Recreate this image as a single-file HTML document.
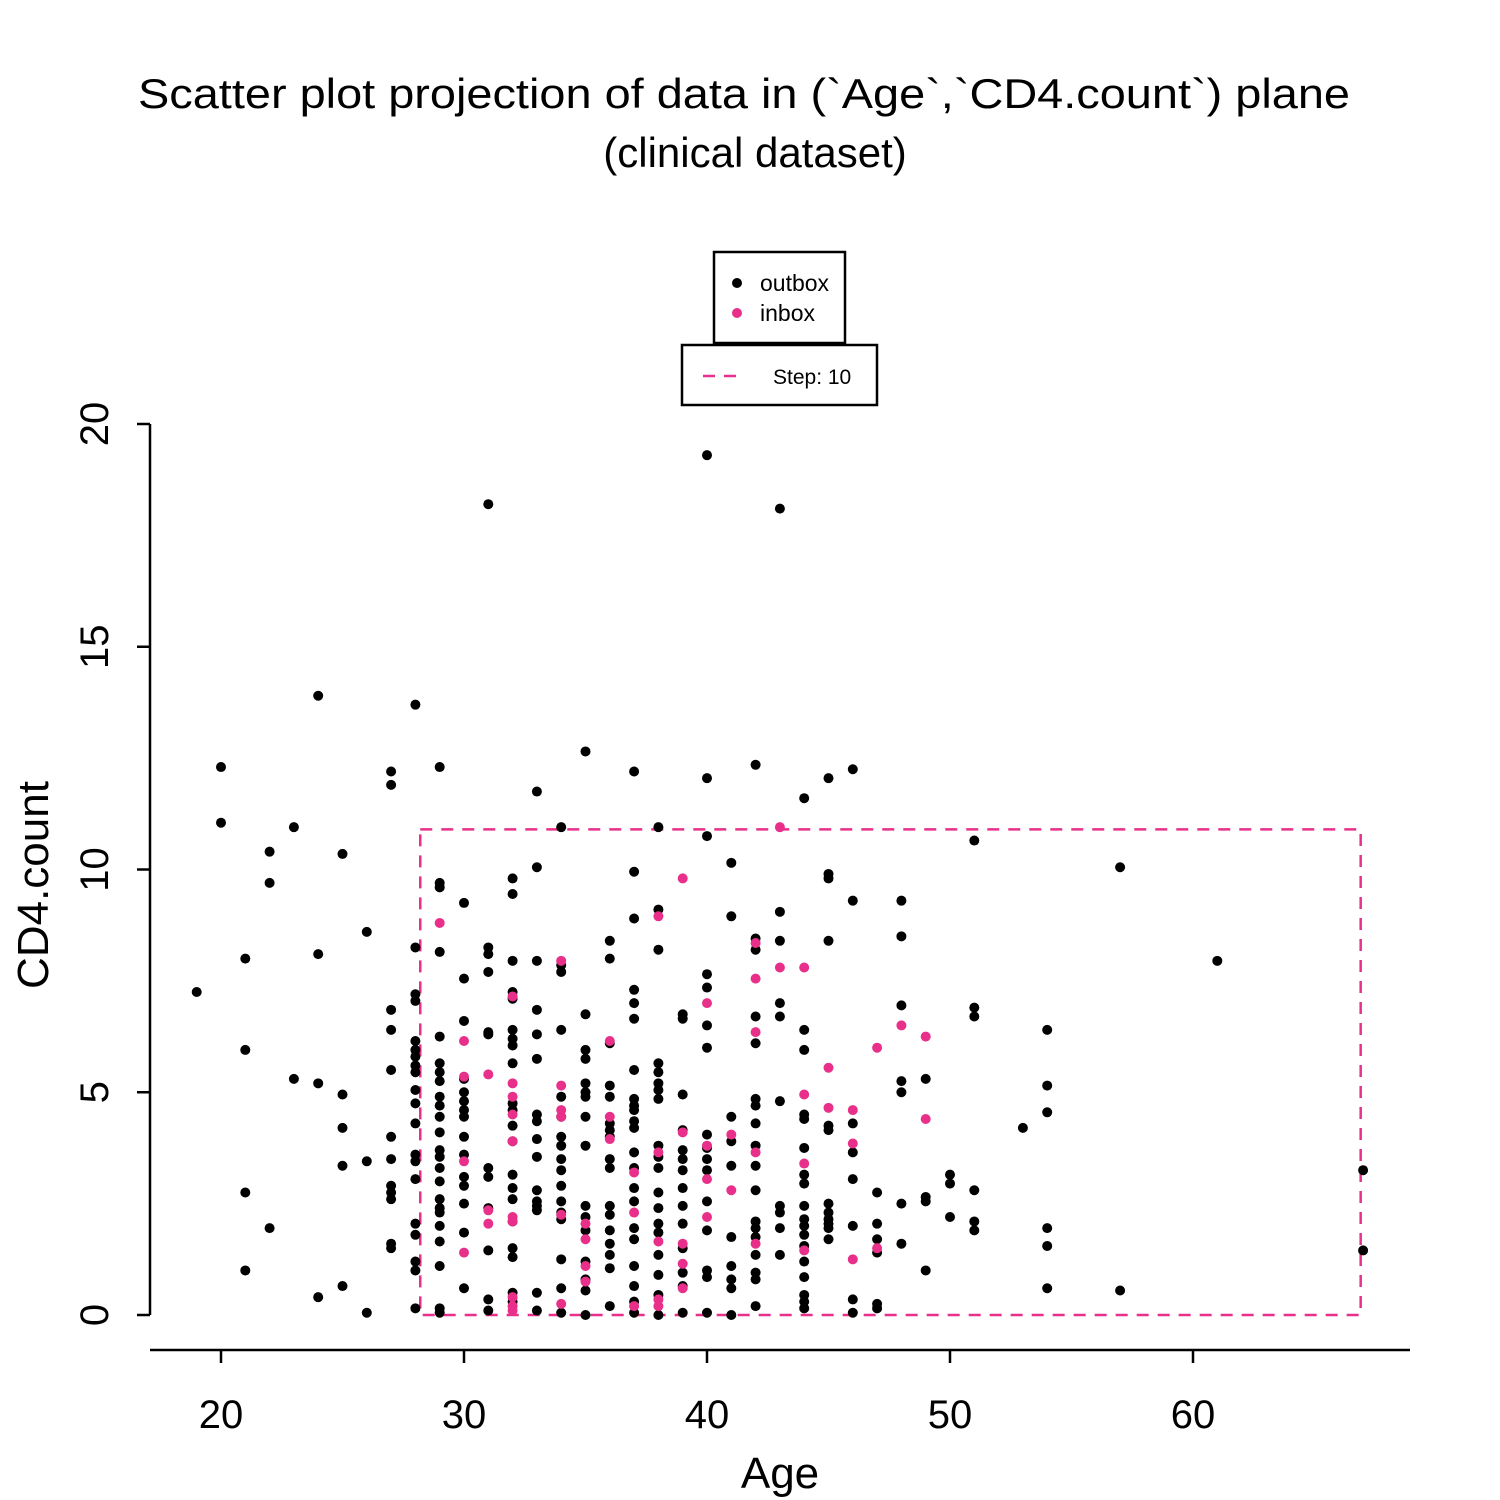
<!DOCTYPE html>
<html><head><meta charset="utf-8"><style>
html,body{margin:0;padding:0;background:#fff}
svg{display:block;font-family:"Liberation Sans",sans-serif}
</style></head><body>
<svg id="chart" width="1500" height="1500" viewBox="0 0 1500 1500">
<text x="744" y="108" font-size="42" text-anchor="middle" textLength="1212" lengthAdjust="spacingAndGlyphs">Scatter plot projection of data in (`Age`,`CD4.count`) plane</text>
<text x="755" y="167" font-size="42" text-anchor="middle">(clinical dataset)</text>
<g>
<rect x="714" y="252" width="131" height="91" fill="#fff" stroke="#000" stroke-width="2.5"/>
<circle cx="737" cy="283" r="5" fill="#000"/><text x="760" y="291" font-size="23">outbox</text>
<circle cx="737" cy="313" r="5" fill="#e8308a"/><text x="760" y="321" font-size="23">inbox</text>
</g>
<g>
<rect x="682" y="345" width="195" height="60" fill="#fff" stroke="#000" stroke-width="2.5"/>
<line x1="703" y1="376" x2="742" y2="376" stroke="#e8308a" stroke-width="2.5" stroke-dasharray="12,9"/>
<text x="773" y="384" font-size="21">Step: 10</text>
</g>
<g id="axes"></g>
<g id="box"></g>
<g id="pts"></g>
<text x="780" y="1488" font-size="44" text-anchor="middle">Age</text>
<text transform="translate(48,885) rotate(-90)" font-size="44" text-anchor="middle">CD4.count</text>
</svg>
<script>
const xTicks=[20,30,40,50,60];
const yTicks=[0,5,10,15,20];
const stepBox=[28.2,66.9,0,10.9];
const outbox={
19:[7.25],20:[12.3,11.05],21:[8.0,5.95,2.75,1.0],22:[10.4,9.7,1.95],23:[10.95,5.3],
24:[13.9,8.1,5.2,0.4],25:[10.35,4.95,4.2,3.35,0.65],26:[8.6,3.45,0.05],
27:[12.2,11.9,6.85,6.4,5.5,4.0,3.5,2.9,2.75,2.6,1.6,1.5],
28:[13.7,8.25,7.2,7.05,6.15,5.95,5.8,5.6,5.45,5.05,4.75,4.3,3.6,3.45,3.05,2.05,1.8,1.2,1.0,0.15],
29:[12.3,9.7,9.6,8.15,6.25,5.65,5.45,5.25,4.9,4.7,4.45,4.1,3.7,3.55,3.3,3.0,2.6,2.4,2.3,2.0,1.65,1.1,0.15,0.05],
30:[9.25,7.55,6.6,5.3,5.0,4.8,4.6,4.45,4.0,3.6,3.1,2.9,2.5,1.85,0.6],
31:[18.2,8.25,8.1,7.7,6.35,6.3,3.3,3.1,2.4,1.45,0.35,0.1],
32:[9.8,9.45,7.95,7.25,7.1,6.4,6.2,6.05,5.65,4.75,4.6,4.25,3.9,3.15,2.85,2.6,2.1,1.5,1.3,0.5,0.3],
33:[11.75,10.05,7.95,6.85,6.3,5.75,4.5,4.35,3.95,3.55,2.8,2.55,2.45,2.35,0.5,0.1],
34:[10.95,7.85,7.7,6.4,4.9,4.45,4.0,3.8,3.5,3.25,2.9,2.55,2.3,2.15,1.25,0.6,0.05],
35:[12.65,6.75,5.95,5.75,5.2,5.0,4.9,4.45,3.8,2.45,2.2,1.9,1.2,0.8,0.55,0.0],
36:[8.4,8.0,6.1,5.15,4.9,4.3,4.15,4.0,3.5,3.3,2.45,2.25,1.9,1.6,1.35,1.05,0.2],
37:[12.2,9.95,8.9,7.3,7.0,6.65,5.5,4.85,4.7,4.6,4.35,4.2,3.65,3.3,2.85,2.55,1.95,1.7,1.1,0.65,0.3,0.05],
38:[10.95,9.1,8.2,5.65,5.45,5.2,5.05,4.85,3.8,3.55,3.3,2.75,2.4,2.05,1.85,1.35,0.9,0.45,0.0],
39:[6.75,6.65,4.95,4.15,3.7,3.5,3.25,2.85,2.45,2.05,1.5,0.95,0.65,0.05],
40:[19.3,12.05,10.75,7.65,7.35,6.5,6.0,4.05,3.75,3.5,3.25,2.55,1.9,1.0,0.85,0.05],
41:[10.15,8.95,4.45,3.9,3.35,1.75,1.1,0.8,0.6,0.0],
42:[12.35,8.45,8.2,6.7,6.1,4.85,4.7,4.3,3.8,3.35,2.8,2.1,1.95,1.75,1.35,0.95,0.8,0.2],
43:[18.1,9.05,8.4,7.0,6.7,4.8,2.45,2.3,1.95,1.35],
44:[11.6,6.4,5.95,4.5,4.4,3.75,3.15,2.95,2.45,2.15,2.0,1.8,1.55,1.2,0.85,0.45,0.3,0.15],
45:[12.05,9.9,9.8,8.4,4.25,4.15,2.5,2.3,2.15,2.05,1.95,1.7],
46:[12.25,9.3,4.3,3.65,3.05,2.0,0.35,0.05],47:[2.75,2.05,1.7,1.4,0.25,0.15],
48:[9.3,8.5,6.95,5.25,5.0,2.5,1.6],49:[5.3,2.65,2.55,1.0],50:[3.15,2.95,2.2],
51:[10.65,6.9,6.7,2.8,2.1,1.9],53:[4.2],54:[6.4,5.15,4.55,1.95,1.55,0.6],
57:[10.05,0.55],61:[7.95],67:[3.25,1.45]};
const inbox={
29:[8.8],30:[6.15,5.35,3.45,1.4],31:[5.4,2.35,2.05],32:[7.15,5.2,4.9,4.5,3.9,2.2,2.1,0.4,0.2,0.1],
34:[7.95,5.15,4.6,4.45,2.25,0.25],35:[2.05,1.7,1.1,0.75],36:[6.15,4.45,3.95],37:[3.2,2.3,0.2],
38:[8.95,3.65,1.65,0.35,0.2],39:[9.8,4.1,1.6,1.15,0.6],40:[7.0,3.8,3.05,2.2],41:[4.05,2.8],
42:[8.35,7.55,6.35,3.65,1.6],43:[10.95,7.8],44:[7.8,4.95,3.4,1.45],45:[5.55,4.65],
46:[4.6,3.85,1.25],47:[6.0,1.5],48:[6.5],49:[6.25,4.4]};

const NS="http://www.w3.org/2000/svg";
const xs=v=>221+(v-20)*24.3;
const ys=v=>1315-v*44.55;
function mk(tag,attrs,parent){const e=document.createElementNS(NS,tag);for(const k in attrs)e.setAttribute(k,attrs[k]);parent.appendChild(e);return e;}
const axes=document.getElementById('axes');
let l=mk('line',{x1:150,y1:1350,x2:1410,y2:1350,stroke:'#000','stroke-width':2.5},axes);


l=mk('line',{x1:150,y1:ys(20),x2:150,y2:ys(0),stroke:'#000','stroke-width':2.5},axes);


xTicks.forEach(t=>{
 mk('line',{x1:xs(t),y1:1350,x2:xs(t),y2:1363,stroke:'#000','stroke-width':2.5},axes);
 const tx=mk('text',{x:xs(t),y:1428,'font-size':40,'text-anchor':'middle'},axes);tx.textContent=t;
 
 
});
yTicks.forEach(t=>{
 mk('line',{x1:137,y1:ys(t),x2:150,y2:ys(t),stroke:'#000','stroke-width':2.5},axes);
 const tx=mk('text',{transform:`translate(108,${ys(t)}) rotate(-90)`,'font-size':40,'text-anchor':'middle'},axes);tx.textContent=t;
 
 
});
const r=mk('rect',{x:xs(stepBox[0]),y:ys(stepBox[3]),width:xs(stepBox[1])-xs(stepBox[0]),height:ys(stepBox[2])-ys(stepBox[3]),fill:'none',stroke:'#e8308a','stroke-width':2.5,'stroke-dasharray':'12,9'},document.getElementById('box'));


const pts=document.getElementById('pts');
function draw(data,color,name){
 for(const a in data){data[a].forEach(v=>{
  const c=mk('circle',{cx:xs(+a),cy:ys(v),r:5,fill:color},pts);
  
  
 });}
}
draw(outbox,'#000','point-outbox');
draw(inbox,'#e8308a','point-inbox');
</script>
</body></html>
